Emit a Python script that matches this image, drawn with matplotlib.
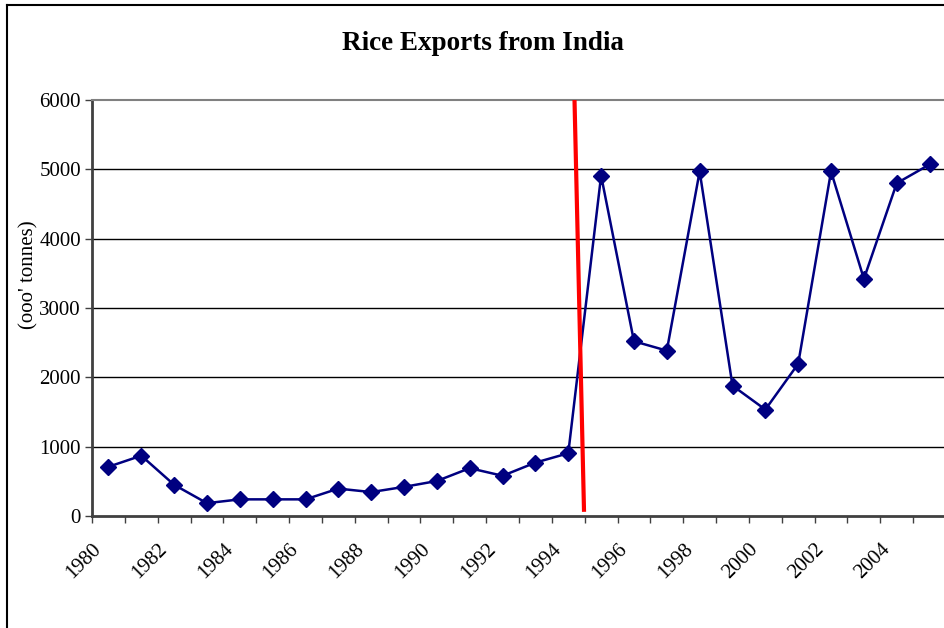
import matplotlib
matplotlib.use("Agg")
import matplotlib.pyplot as plt
from matplotlib.lines import Line2D

years = list(range(1980, 2006))
exports = [710, 870, 450, 185, 240, 240, 240, 395, 345, 420, 505, 690, 580, 770, 905,
           4910, 2520, 2385, 4970, 1880, 1535, 2195, 4970, 3420, 4800, 5070]
yticks = [0, 1000, 2000, 3000, 4000, 5000, 6000]
tick_labels = [str(y) if (y - 1980) % 2 == 0 else "" for y in years]
# red marker line (category position, value)
red_x = [14.19, 14.48]
red_y = [6000, 60]

plt.rcParams['font.family'] = ['Liberation Serif', 'DejaVu Serif']

fig = plt.figure(figsize=(9.44, 6.28), dpi=100)
ax = fig.add_axes([92/944, 1-516/628, 854/944, 416/628])

xs = list(range(len(years)))
ax.plot(xs, exports, color='#000080', lw=1.8, marker='D', markersize=8.5,
        markerfacecolor='#000080', markeredgecolor='#000080', zorder=4)
ax.plot(red_x, red_y, color='red', lw=3, zorder=5, solid_capstyle='butt')

ax.set_xlim(-0.5, len(years) - 0.5)
ax.set_ylim(0, 6000)
ax.set_yticks(yticks)
ax.set_yticklabels([str(v) for v in yticks], fontsize=15)
ax.set_xticks([i - 0.5 for i in range(len(years) + 1)])
ax.set_xticklabels(tick_labels + [""], fontsize=15, rotation=45, ha='right',
                   rotation_mode='anchor')
ax.tick_params(axis='x', direction='out', length=5, width=1, color='#404040', pad=12)
ax.tick_params(axis='y', direction='out', length=5, width=1, color='#404040', pad=3)

for v in yticks[1:-1]:
    ax.axhline(v, color='black', lw=1, zorder=1)

for s in ['left', 'bottom']:
    ax.spines[s].set_color('#404040')
    ax.spines[s].set_linewidth(2)
ax.spines['top'].set_color('#808080')
ax.spines['top'].set_linewidth(1.5)
ax.spines['right'].set_visible(False)

ax.set_ylabel("(ooo' tonnes)", fontsize=15)
ax.yaxis.set_label_coords(-0.063, 0.58)

fig.text(483/944, 1-44/628, "Rice Exports from India", ha='center', va='center',
         fontsize=19.5, fontweight='bold')

fig.add_artist(Line2D([7/944, 7/944], [0, 1-5/628], color='black', lw=1.5,
                      transform=fig.transFigure))
fig.add_artist(Line2D([7/944, 1], [1-5/628, 1-5/628], color='black', lw=1.5,
                      transform=fig.transFigure))

fig.savefig("out.png", dpi=100)
